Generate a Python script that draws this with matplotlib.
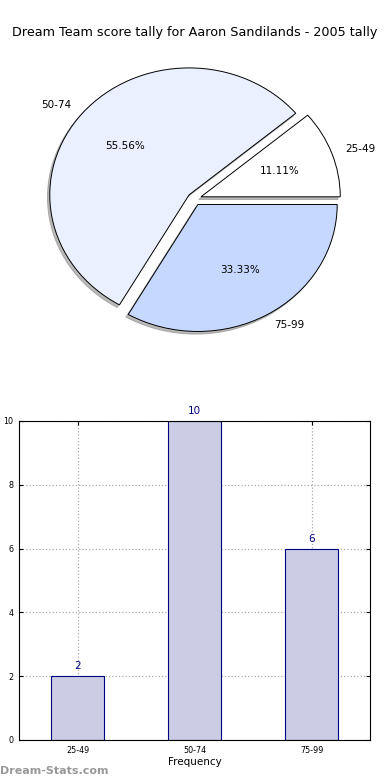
import numpy as np
import matplotlib
matplotlib.use('Agg')
import matplotlib.pyplot as plt

bands = ['25-49', '50-74', '75-99']
counts = [2, 10, 6]
pie_colors = ['#ffffff', '#eaf0ff', '#c6d8ff']

fig = plt.figure(figsize=(3.9, 7.8), dpi=100)

# pie at top
ax1 = fig.add_axes([0.052, 0.5414, 0.893, 0.407])
wedges, texts, autotexts = ax1.pie(counts, labels=bands, colors=pie_colors,
                                   explode=[0.05, 0.05, 0.05], autopct='%1.2f%%',
                                   shadow={'ox': -0.012, 'oy': -0.015, 'color': '#777777'},
                                   startangle=0,
                                   wedgeprops={'edgecolor': 'black', 'linewidth': 0.7},
                                   textprops={'fontsize': 7.5})
ax1.set_aspect('auto')
ax1.set_xlim(-1.25, 1.25)
ax1.set_ylim(-1.25, 1.25)
ax1.set_title('Dream Team score tally for Aaron Sandilands - 2005 tally', fontsize=9.2, pad=3)

# bar chart at bottom
ax2 = fig.add_axes([0.049, 0.0513, 0.9, 0.409])
x = np.arange(len(bands))
ax2.bar(x, counts, width=0.45, color='#ccccE4', edgecolor='#000080', linewidth=0.8,
        zorder=2)
for xi, c in zip(x, counts):
    ax2.text(xi, c + 0.15, str(c), ha='center', va='bottom', color='#000080', fontsize=7.5)
ax2.set_xlim(-0.5, 2.5)
ax2.set_ylim(0, 10)
ax2.set_xticks(x)
ax2.set_xticklabels(bands)
ax2.set_yticks([0, 2, 4, 6, 8, 10])
ax2.tick_params(labelsize=5.8, direction='in', top=True, right=True, length=3, pad=4)
ax2.grid(True, linestyle=':', color='#aaaaaa', linewidth=0.9, zorder=0)
ax2.set_axisbelow(True)
ax2.set_xlabel('Frequency', fontsize=7.5, labelpad=2)
ax2.set_ylabel('Score Interval', fontsize=7.5, labelpad=6)

fig.text(0.0, 0.005, 'Dream-Stats.com', color='#999999', fontsize=8,
         fontweight='bold', ha='left', va='bottom')

fig.savefig('out.png', dpi=100)
